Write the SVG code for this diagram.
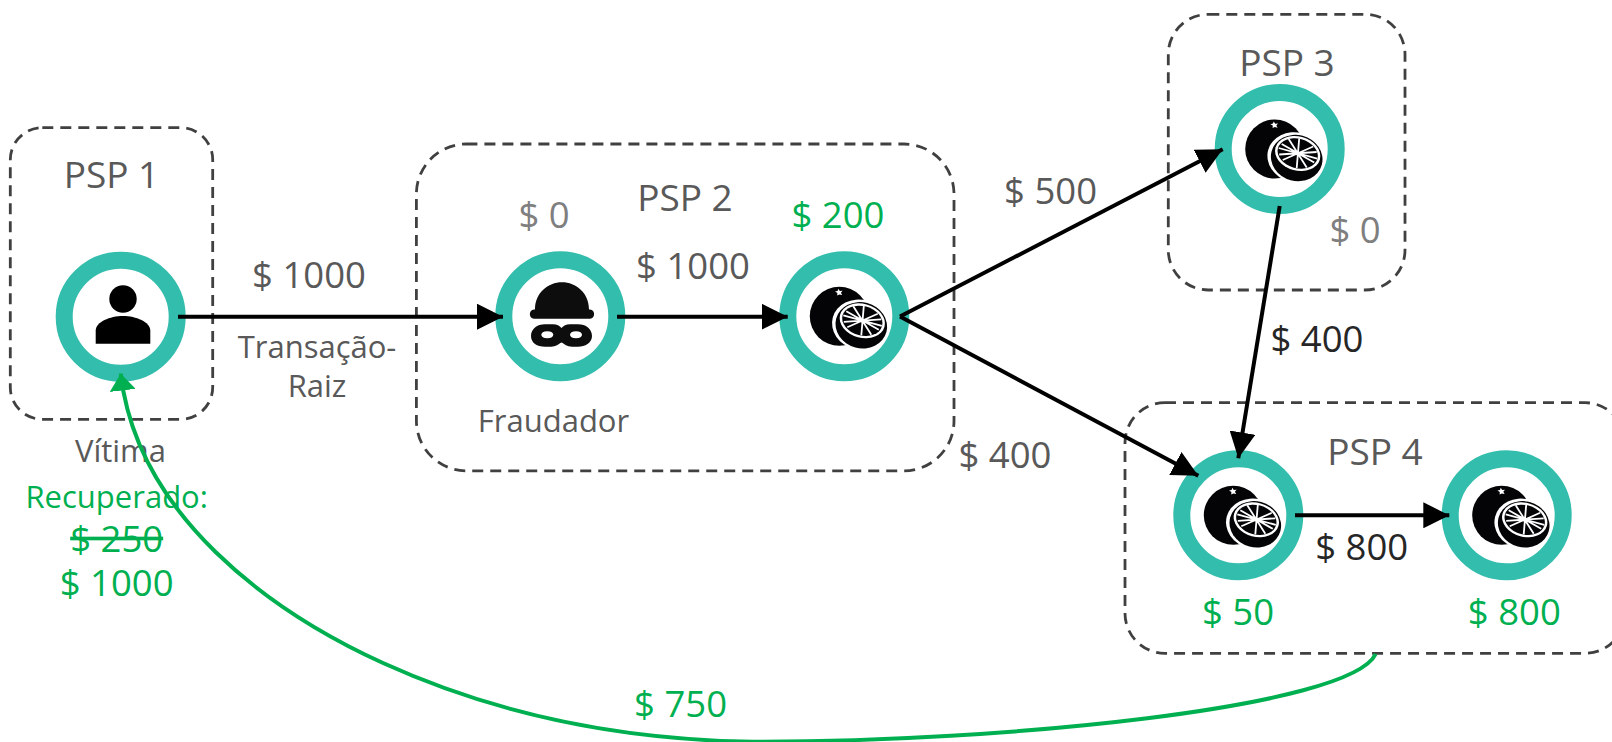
<svg xmlns="http://www.w3.org/2000/svg" width="1612" height="742" viewBox="0 0 1612 742">
<style>
text{font-family:"Open Sans","Noto Sans","Liberation Sans",sans-serif;text-anchor:middle;font-size:36.5px;fill:#595959}
.h{font-size:37px}
.s{font-size:31px}
.g{fill:#00b050}
.k{fill:#262626}
.z{fill:#7f7f7f}
.box{fill:none;stroke:#404040;stroke-width:2.8;stroke-dasharray:11 7}
.ring{fill:#fff;stroke:#33bdad;stroke-width:17}
.c{fill:none;stroke:#000;stroke-width:4}
.cg{fill:none;stroke:#00b050;stroke-width:4}
</style>
<defs>
<marker id="ah" markerUnits="userSpaceOnUse" markerWidth="26" markerHeight="26" refX="26" refY="13" orient="auto"><path d="M0 0L26 13L0 26Z" fill="#000"/></marker>
<marker id="ag" markerUnits="userSpaceOnUse" markerWidth="17" markerHeight="26" refX="17" refY="13" orient="auto"><path d="M0 0L17 13L0 26Z" fill="#00b050"/></marker>
<g id="orange">
<circle cx="-5" cy="0" r="29.500" fill="#040406"/>
<path d="M-6 -27.500l1.500 2.200 2.800 -.3 -1.700 2.100 1.300 2.200 -2.800 -.6 -2.200 1 .2 -2.500 -2.400 -1.400 2.600 -.6z" fill="#fff"/>
<ellipse cx="16" cy="8.500" rx="28.500" ry="25" fill="#fff" transform="rotate(15 16 8.500)"/>
<ellipse cx="17" cy="9" rx="26" ry="23" fill="#040406" transform="rotate(15 17 9)"/>
<ellipse cx="18" cy="4.500" rx="23" ry="17" fill="#fff" transform="rotate(15 18 4.500)"/>
<ellipse cx="18" cy="4.500" rx="20.500" ry="14.700" fill="#040406" transform="rotate(15 18 4.500)"/>
<path d="M-1 -1L37.500 9.600M3 11L33.500 -2.500M9 -10L27 18.500M19.500 -10.500L17 19M-.5 5.500L37 3M2 -5L34.500 13.500" stroke="#fff" stroke-width="1.800" fill="none"/>
<circle cx="18" cy="4.500" r="2" fill="#fff"/>
</g>
</defs>
<g id="psp1"><rect class="box" x="10.300" y="127.700" width="202.400" height="291.600" rx="32"/><text class="h" x="111.500" y="188">PSP 1</text></g>
<g id="psp2"><rect class="box" x="416.400" y="144" width="537.600" height="326.800" rx="50"/><text class="h" x="685" y="211">PSP 2</text></g>
<g id="psp3"><rect class="box" x="1168.300" y="14.300" width="236.700" height="275.700" rx="40"/><text class="h" x="1287" y="75.500">PSP 3</text></g>
<g id="psp4"><rect class="box" x="1125" y="402.700" width="500" height="250.600" rx="40"/><text class="h" x="1375" y="464.500">PSP 4</text></g>
<g id="n-vitima"><circle class="ring" cx="120.700" cy="316.700" r="56.500"/><circle cx="123" cy="299" r="13.700"/><path d="M95.700 343.700V330.500C95.700 322 110 316 123 316S150.300 322 150.300 330.500V343.700Z"/><text class="s" x="120.500" y="462">Vítima</text></g>
<g id="n-fraudador"><circle class="ring" cx="560.300" cy="316.300" r="56.500"/>
<path d="M535 309.500C535 293 548 282.300 562 282.300S589 293 589 309.500H590C595.500 309.500 595.500 318.700 590 318.700H534C528.500 318.700 528.500 309.500 534 309.500Z" fill="#0d0d0d"/>
<path fill-rule="evenodd" fill="#0d0d0d" d="M545 324.300H553C557 324.300 559.500 326 561.500 328C563.500 326 566 324.300 570 324.300H578C586 324.300 592 329 592 336C592 343 585 346.700 578 346.700H572C567 346.700 564.500 344 561.500 342.500C558.500 344 556 346.700 551 346.700H545C537 346.700 531 343 531 336C531 329 537 324.300 545 324.300ZM547.300 331.200C543.300 331.200 541.300 333 541.300 334.700C541.300 336.400 543.300 338.200 547.300 338.200S553.300 336.400 553.300 334.700S551.300 331.200 547.300 331.200ZM576 331.200C572 331.200 570 333 570 334.700C570 336.400 572 338.200 576 338.200S582 336.400 582 334.700S580 331.200 576 331.200Z"/>
<text class="s" x="553.500" y="431.800">Fraudador</text></g>
<g id="n-psp2"><circle class="ring" cx="844.300" cy="316.300" r="56.500"/><use href="#orange" x="844.300" y="316.300"/></g>
<g id="n-psp3"><circle class="ring" cx="1279.700" cy="149" r="56.500"/><use href="#orange" x="1279.700" y="149"/></g>
<g id="n-psp4a"><circle class="ring" cx="1238.300" cy="515.300" r="56.500"/><use href="#orange" x="1238.300" y="515.300"/></g>
<g id="n-psp4b"><circle class="ring" cx="1506.700" cy="515.300" r="56.500"/><use href="#orange" x="1506.700" y="515.300"/></g>
<g id="labels">
<text x="309" y="288">$ 1000</text>
<text class="s" x="317" y="358">Transação-</text>
<text class="s" x="317" y="396.700">Raiz</text>
<text class="z" x="544" y="227.500">$ 0</text>
<text class="g" x="838" y="227.500">$ 200</text>
<text x="693" y="279">$ 1000</text>
<text x="1050.600" y="203.500">$ 500</text>
<text x="1005" y="467.800">$ 400</text>
<text class="k" x="1317" y="352">$ 400</text>
<text class="z" x="1355" y="243">$ 0</text>
<text class="k" x="1361.700" y="560">$ 800</text>
<text class="g" x="1238" y="625">$ 50</text>
<text class="g" x="1514.300" y="625">$ 800</text>
<text class="g" x="680.600" y="716.500">$ 750</text>
<text class="s g" x="116.700" y="507.500">Recuperado:</text>
<text class="g" x="116.700" y="551.500" text-decoration="line-through">$ 250</text>
<text class="g" x="116.700" y="595.500">$ 1000</text>
</g>
<g id="connectors">
<path class="c" marker-end="url(#ah)" d="M178 316.700H503"/>
<path class="c" marker-end="url(#ah)" d="M617 316.700H787.700"/>
<path class="c" marker-end="url(#ah)" d="M900 316.500L1222.700 149.300"/>
<path class="c" marker-end="url(#ah)" d="M900 316.500L1198.300 475.700"/>
<path class="c" marker-end="url(#ah)" d="M1279.700 206L1238.300 458.300"/>
<path class="c" marker-end="url(#ah)" d="M1295 515.300H1449.300"/>
<path class="cg" marker-end="url(#ag)" d="M1375.700 654C1350 708 1000 742 753 741.700C630 740 503 717.600 383 663C270 611.500 137 515 120.700 373.500"/>
</g>
</svg>
